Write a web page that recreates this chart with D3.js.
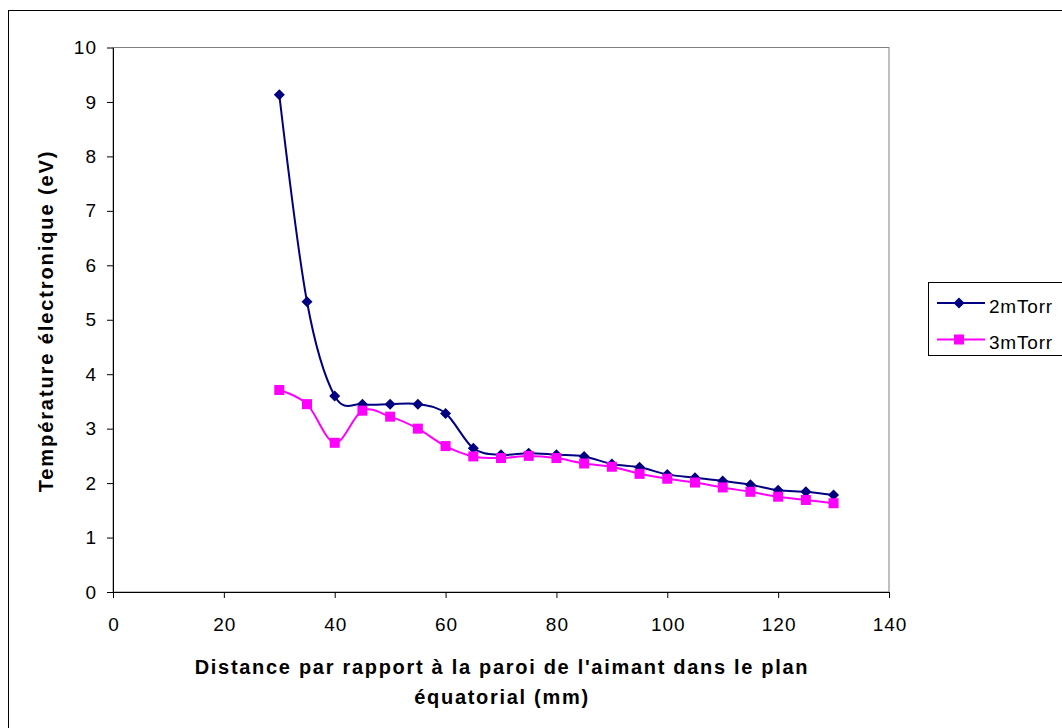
<!DOCTYPE html>
<html><head><meta charset="utf-8">
<script src="https://cdn.jsdelivr.net/npm/d3@7"></script>
<style>body{margin:0;background:#fff}svg{display:block}text{font-family:"Liberation Sans",Arial,sans-serif}</style>
</head><body><svg id="c" width="1062" height="728"></svg>
<script>
const distances = [30,35,40,45,50,55,60,65,70,75,80,85,90,95,100,105,110,115,120,125,130];
const series2mTorr = [9.13,5.33,3.60,3.45,3.45,3.45,3.28,2.64,2.52,2.55,2.52,2.49,2.35,2.29,2.16,2.10,2.04,1.97,1.87,1.84,1.78];
const series3mTorr = [3.71,3.45,2.74,3.33,3.22,3.00,2.68,2.49,2.46,2.50,2.46,2.36,2.30,2.17,2.08,2.01,1.92,1.84,1.75,1.69,1.63];
const seriesNames = ["2mTorr","3mTorr"];
const xTicks = [0,20,40,60,80,100,120,140];
const yTicks = [0,1,2,3,4,5,6,7,8,9,10];

const svg = d3.select("#c");
svg.append("rect").attr("x",8.5).attr("y",10.5).attr("width",1100).attr("height",800)
  .attr("fill","#fff").attr("stroke","#000").attr("stroke-width",1);

const x = d3.scaleLinear().domain([0,140]).range([113,889]);
const y = d3.scaleLinear().domain([0,10]).range([592,47.5]);

svg.append("rect").attr("x",113).attr("y",47.5).attr("width",776).attr("height",544.5)
  .attr("fill","none").attr("stroke","#808080").attr("stroke-width",1);

const xAxis = svg.append("g").attr("transform","translate(0,592)")
  .call(d3.axisBottom(x).tickValues(xTicks).tickSize(6).tickSizeOuter(0).tickPadding(20));
const yAxis = svg.append("g").attr("transform","translate(113,0)")
  .call(d3.axisLeft(y).tickValues(yTicks).tickSize(6).tickSizeOuter(0).tickPadding(11));
[xAxis,yAxis].forEach(g=>{
  g.attr("font-size",19).attr("font-family","Liberation Sans, Arial, sans-serif");
  g.selectAll("path,line").attr("stroke","#000").attr("stroke-width",1);
  g.selectAll("text").attr("font-size",19).attr("letter-spacing","1px").attr("fill","#000");
});
xAxis.selectAll("text").attr("dx","0.5px");
yAxis.selectAll("text").attr("dx","1px");

const data2 = distances.map((d,i)=>[d,series2mTorr[i]]);
const data3 = distances.map((d,i)=>[d,series3mTorr[i]]);
const line = d3.line().x(d=>x(d[0])).y(d=>y(d[1])).curve(d3.curveCardinal.tension(0));

svg.append("path").datum(data2).attr("d",line).attr("fill","none").attr("stroke","#000080").attr("stroke-width",2);
svg.append("path").datum(data3).attr("d",line).attr("fill","none").attr("stroke","#FF00FF").attr("stroke-width",2);

const diamond = (cx,cy,r)=>`M${cx},${cy-r}L${cx+r},${cy}L${cx},${cy+r}L${cx-r},${cy}Z`;
svg.append("g").selectAll("path").data(data2).join("path")
  .attr("d",d=>diamond(x(d[0]),y(d[1]),5.5)).attr("fill","#000080");
svg.append("g").selectAll("rect").data(data3).join("rect")
  .attr("x",d=>x(d[0])-5).attr("y",d=>y(d[1])-5).attr("width",10).attr("height",10).attr("fill","#FF00FF");

svg.append("text").attr("transform","translate(53,321) rotate(-90)").attr("text-anchor","middle")
  .attr("font-size",20).attr("font-weight","bold").attr("letter-spacing","1.9px")
  .text("Température électronique (eV)");
svg.append("text").attr("x",502).attr("y",674).attr("text-anchor","middle")
  .attr("font-size",20).attr("font-weight","bold").attr("letter-spacing","1.7px")
  .text("Distance par rapport à la paroi de l'aimant dans le plan");
svg.append("text").attr("x",502).attr("y",704).attr("text-anchor","middle")
  .attr("font-size",20).attr("font-weight","bold").attr("letter-spacing","1.7px")
  .text("équatorial (mm)");

const lg = svg.append("g");
lg.append("rect").attr("x",928.5).attr("y",282.5).attr("width",200).attr("height",73).attr("fill","#fff").attr("stroke","#000");
const colors = ["#000080","#FF00FF"];
seriesNames.forEach((n,i)=>{
  const ly = 303 + i*36.5;
  lg.append("line").attr("x1",937).attr("x2",985).attr("y1",ly).attr("y2",ly).attr("stroke",colors[i]).attr("stroke-width",2);
  if(i===0) lg.append("path").attr("d",diamond(959,ly,5.5)).attr("fill",colors[i]);
  else lg.append("rect").attr("x",954).attr("y",ly-5).attr("width",10).attr("height",10).attr("fill",colors[i]);
  lg.append("text").attr("x",989).attr("y",ly+3).attr("dy","0.35em").attr("font-size",19).attr("letter-spacing","0.8px").text(n);
});
</script></body></html>
